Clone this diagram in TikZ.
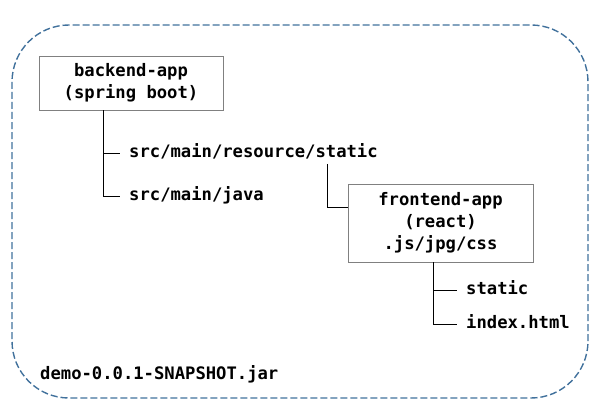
\documentclass[tikz,border=0pt]{standalone}
\usepackage{fontspec}
\setmonofont{DejaVu Sans Mono}
\usetikzlibrary{positioning}

\definecolor{framebl}{HTML}{41719C}
\definecolor{boxgray}{HTML}{808080}
\newcommand{\codefont}{\ttfamily\bfseries\fontsize{17.2}{22}\selectfont}

\tikzset{
  appbox/.style={draw=boxgray, line width=0.9pt, fill=white, align=center, font=\codefont},
  dirlabel/.style={font=\codefont, anchor=west, inner xsep=9pt, inner ysep=3pt,
    text height=12pt, text depth=3.5pt},
  treeline/.style={line width=0.8pt}
}

\begin{document}
\begin{tikzpicture}[x=1pt,y=-1pt]
  \useasboundingbox (0,0) rectangle (599,409);

  % jar frame
  \draw[framebl, line width=1.4pt, dash pattern=on 7pt off 3pt, rounded corners=57pt] (12,25) rectangle (588,398);

  \node[appbox, minimum width=184pt, minimum height=54pt] (backend) at (131,83) {backend-app\\(spring boot)};
  \node[dirlabel] (res) at (120,153) {src/main/resource/static};
  \node[dirlabel] (java) at (120,196) {src/main/java};

  \node[appbox, minimum width=185pt, minimum height=78pt] (front) at (440.5,223) {frontend-app\\(react)\\.js/jpg/css};
  \node[dirlabel] (static) at (457,290) {static};
  \node[dirlabel] (index) at (457,324) {index.html};

  \node[dirlabel, inner xsep=0pt] (jar) at (40,375) {demo-0.0.1-SNAPSHOT.jar};

  \draw[treeline] ([xshift=-28pt]backend.south) |- (res.west);
  \draw[treeline] ([xshift=-28pt]backend.south) |- (java.west);

  \coordinate (rbend) at ([xshift=-20pt,yshift=16pt]front.west);
  \draw[treeline] (rbend |- res.south) |- ([yshift=16pt]front.west);

  \draw[treeline] ([xshift=-7.5pt]front.south) |- (static.west);
  \draw[treeline] ([xshift=-7.5pt]front.south) |- (index.west);
\end{tikzpicture}
\end{document}
